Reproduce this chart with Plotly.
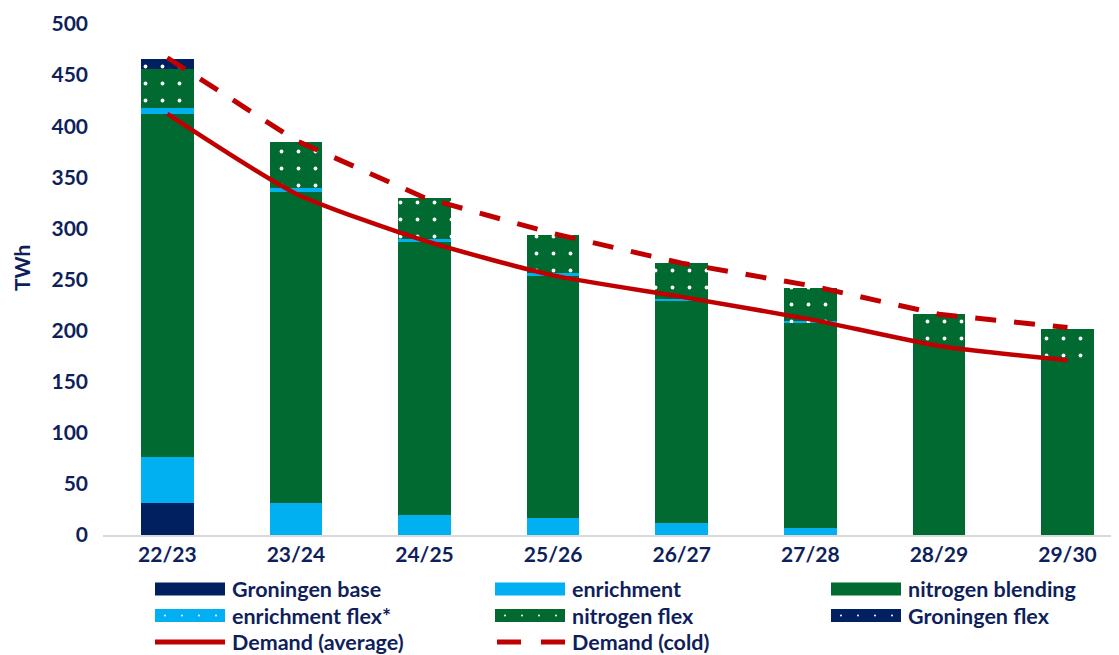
import plotly.graph_objects as go

categories = ["22/23", "23/24", "24/25", "25/26", "26/27", "27/28", "28/29", "29/30"]
groningen_base = [31, 0, 0, 0, 0, 0, 0, 0]
enrichment = [45, 31, 20, 17, 12, 7, 0, 0]
nitrogen_blending = [336, 305, 267, 236, 217, 201, 185, 171]
enrichment_flex = [6, 4, 3, 3, 1.5, 1, 0, 0]
nitrogen_flex = [38, 45, 40, 37.5, 35.5, 32.7, 31, 30.5]
groningen_flex = [10, 0, 0, 0, 0, 0, 0, 0]
demand_average = [412, 334, 288, 254, 233, 211, 185, 171]
demand_cold = [467, 386, 330, 295, 266, 244, 216, 203]
y_ticks = [0, 50, 100, 150, 200, 250, 300, 350, 400, 450, 500]

NAVY = "#002060"
CYAN = "#00B0F0"
GREEN = "#006A31"
RED = "#C00000"
TEXT = "#0F1F5C"
FONT = "Lato, Roboto, sans-serif"
FS = 21
LEG_FS = 21.5

# page has an 8px body margin, so the figure sits 8px in from the corner
OFF = 8
W, H = 1119 - OFF, 655 - OFF
L, T = 103 - OFF, 24 - OFF
B = H - (535 - OFF)
R = 0
PW, PH = W - L - R, H - T - B


def pattern(color):
    return dict(shape=".", bgcolor=color, fgcolor="white", size=17,
                solidity=0.04, fillmode="replace")


fig = go.Figure()

# ---- STACKED BARS ----
bars = [
    ("Groningen base", groningen_base, NAVY, False),
    ("enrichment", enrichment, CYAN, False),
    ("nitrogen blending", nitrogen_blending, GREEN, False),
    ("enrichment flex*", enrichment_flex, CYAN, True),
    ("nitrogen flex", nitrogen_flex, GREEN, True),
    ("Groningen flex", groningen_flex, NAVY, True),
]
for name, vals, color, dotted in bars:
    marker = dict(color=color, line=dict(width=0))
    if dotted:
        marker["pattern"] = pattern(color)
    fig.add_trace(go.Bar(x=categories, y=vals, name=name, marker=marker,
                         showlegend=False))

# ---- DEMAND LINES ----
fig.add_trace(go.Scatter(x=categories, y=demand_average, mode="lines",
                         name="Demand (average)", showlegend=False,
                         line=dict(color=RED, width=4.5, shape="spline", smoothing=0.6)))
fig.add_trace(go.Scatter(x=categories, y=demand_cold, mode="lines",
                         name="Demand (cold)", showlegend=False,
                         line=dict(color=RED, width=5, dash="21px,18px")))

# ---- MANUAL LEGEND (positions in reference pixels) ----
def px(p):
    return (p - OFF - L) / PW


def py(p):
    return (H - B - (p - OFF)) / PH


shapes = []
annotations = []
legend_items = [
    ("Groningen base", "solid", NAVY, 155, 589),
    ("enrichment", "solid", CYAN, 495, 589),
    ("nitrogen blending", "solid", GREEN, 831, 589),
    ("enrichment flex*", "dots", CYAN, 155, 615.5),
    ("nitrogen flex", "dots", GREEN, 495, 615.5),
    ("Groningen flex", "dots", NAVY, 831, 615.5),
    ("Demand (average)", "line", RED, 155, 642),
    ("Demand (cold)", "dash", RED, 495, 642),
]
sw = 70
for label, kind, color, x0, yc in legend_items:
    if kind in ("solid", "dots"):
        shapes.append(dict(type="rect", xref="paper", yref="paper",
                           x0=px(x0), x1=px(x0 + sw), y0=py(yc - 6.5), y1=py(yc + 6.5),
                           fillcolor=color, line=dict(width=0)))
        if kind == "dots":
            for k in range(4):
                cx = x0 + 10 + k * 17
                shapes.append(dict(type="circle", xref="paper", yref="paper",
                                   x0=px(cx - 1), x1=px(cx + 1), y0=py(yc - 1), y1=py(yc + 1),
                                   fillcolor="white", line=dict(width=0)))
    elif kind == "line":
        shapes.append(dict(type="line", xref="paper", yref="paper",
                           x0=px(x0), x1=px(x0 + sw), y0=py(yc), y1=py(yc),
                           line=dict(color=color, width=5)))
    else:
        for a, b in ((x0 + 2, x0 + 26), (x0 + 46, x0 + 70)):
            shapes.append(dict(type="line", xref="paper", yref="paper",
                               x0=px(a), x1=px(b), y0=py(yc), y1=py(yc),
                               line=dict(color=color, width=5)))
    annotations.append(dict(text=label, xref="paper", yref="paper",
                            x=px(x0 + sw + 5), y=py(yc), xanchor="left", yanchor="middle",
                            showarrow=False,
                            font=dict(family=FONT, size=LEG_FS, color=TEXT, weight="bold")))

# y-axis title
annotations.append(dict(text="TWh", xref="paper", yref="paper",
                        x=px(21), y=py(268), xanchor="center", yanchor="middle",
                        textangle=-90, showarrow=False,
                        font=dict(family=FONT, size=FS, color=TEXT, weight="bold")))

# ---- LAYOUT ----
fig.update_layout(
    width=W, height=H,
    margin=dict(l=L, r=R, t=T, b=B),
    barmode="stack",
    bargap=0.59,
    plot_bgcolor="white",
    paper_bgcolor="white",
    showlegend=False,
    shapes=shapes,
    annotations=annotations,
    font=dict(family=FONT, color=TEXT),
)
fig.update_xaxes(
    type="category",
    range=[-0.5, -0.5 + PW / 128.6],
    showgrid=False,
    showline=True, linecolor="#D9D9D9", linewidth=2,
    ticks="",
    tickfont=dict(family=FONT, size=FS, color=TEXT, weight="bold"),
    ticklabelstandoff=0,
)
fig.update_yaxes(
    range=[0, 500],
    tickvals=y_ticks,
    showgrid=False,
    zeroline=False,
    showline=False,
    ticks="",
    tickfont=dict(family=FONT, size=FS, color=TEXT, weight="bold"),
    ticklabelstandoff=14,
)

fig.write_html("out.html")
